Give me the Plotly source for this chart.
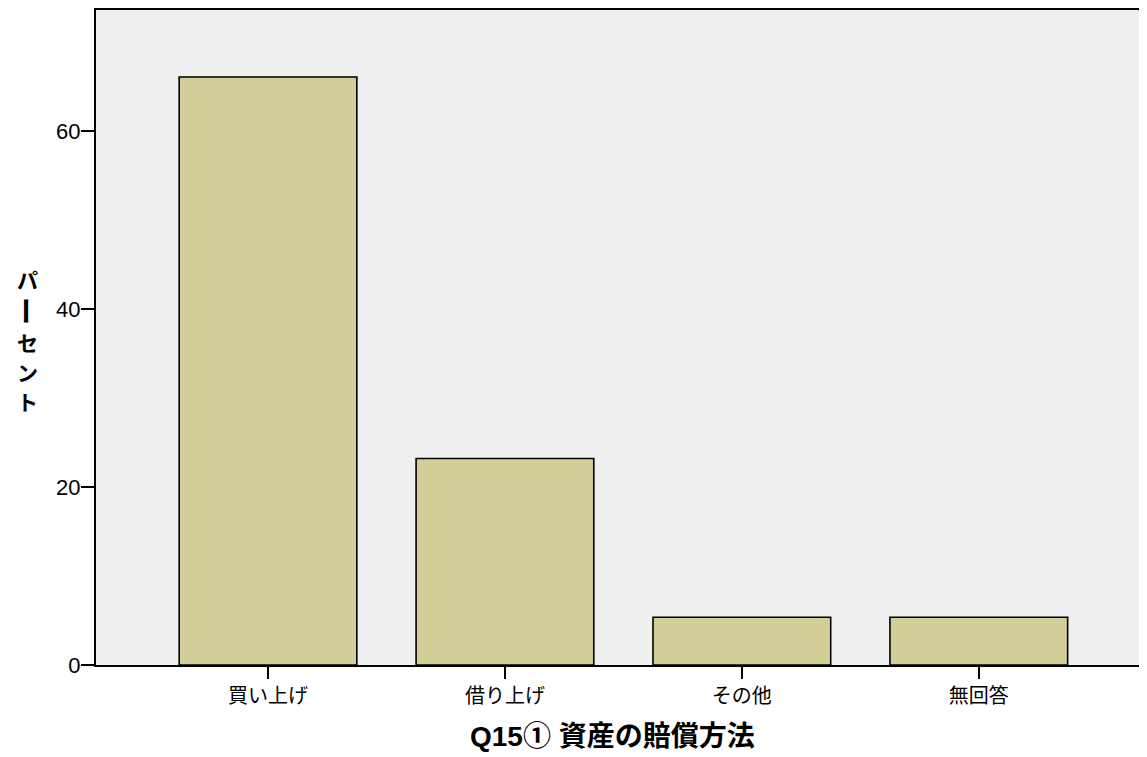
import plotly.graph_objects as go

categories = ["買い上げ", "借り上げ", "その他", "無回答"]
percent = [66.07, 23.21, 5.36, 5.36]
y_ticks = [0, 20, 40, 60]
x_title = "Q15① 資産の賠償方法"
y_title_chars = ["パ", "ー", "セ", "ン", "ト"]

# page has an 8px body margin, so the figure is sized to fit the window
OFF = 8
W, H = 1147 - OFF, 757 - OFF
L, R, T, B = 96 - OFF, 0, 0, 757 - 665
pw = W - L - R
ph = H - T - B

latin = "Liberation Sans, Arial, Noto Sans CJK JP, sans-serif"
cjk = "Noto Sans CJK JP, sans-serif"

fig = go.Figure(go.Bar(
    x=list(range(len(categories))),
    y=percent,
    marker=dict(color="#D3CE98", line=dict(color="black", width=1.6)),
    width=0.75,
))

fig.update_layout(
    width=W, height=H,
    margin=dict(l=L, r=R, t=T, b=B),
    paper_bgcolor="white",
    plot_bgcolor="#EFEFEF",
    showlegend=False,
    font=dict(family=latin, color="black", size=14),
    xaxis=dict(
        range=[-0.726, 3.71],
        tickmode="array",
        tickvals=list(range(len(categories))),
        ticktext=categories,
        ticks="outside", ticklen=12, tickwidth=2, tickcolor="black",
        showline=True, linecolor="black", linewidth=2, mirror=True,
        showgrid=False, zeroline=False,
        tickfont=dict(size=20, family=cjk),
    ),
    yaxis=dict(
        range=[0, 73.6],
        tickmode="array",
        tickvals=y_ticks,
        ticks="outside", ticklen=13, tickwidth=2, tickcolor="black",
        ticklabelstandoff=-4,
        showline=True, linecolor="black", linewidth=2,
        showgrid=False, zeroline=False,
        tickfont=dict(size=22, family=latin),
    ),
)

def px(xp):
    return (xp - OFF - L) / pw

def py(yp):
    return (H - B - (yp - OFF)) / ph

fig.add_annotation(
    text="<b>" + x_title + "</b>",
    xref="paper", yref="paper",
    x=px(612), y=py(737),
    xanchor="center", yanchor="middle",
    showarrow=False,
    font=dict(size=28, family=latin),
)

y_centers = [278, 310, 341, 371, 400]
for ch, yc in zip(y_title_chars, y_centers):
    vertical_bar = ch == "ー"
    fig.add_annotation(
        text="<b>" + ch + "</b>",
        xref="paper", yref="paper",
        x=px(27), y=py(yc),
        xanchor="center", yanchor="middle",
        showarrow=False,
        textangle=90 if vertical_bar else 0,
        font=dict(size=28 if vertical_bar else 21, family=cjk),
    )

fig.write_html("out.html")
